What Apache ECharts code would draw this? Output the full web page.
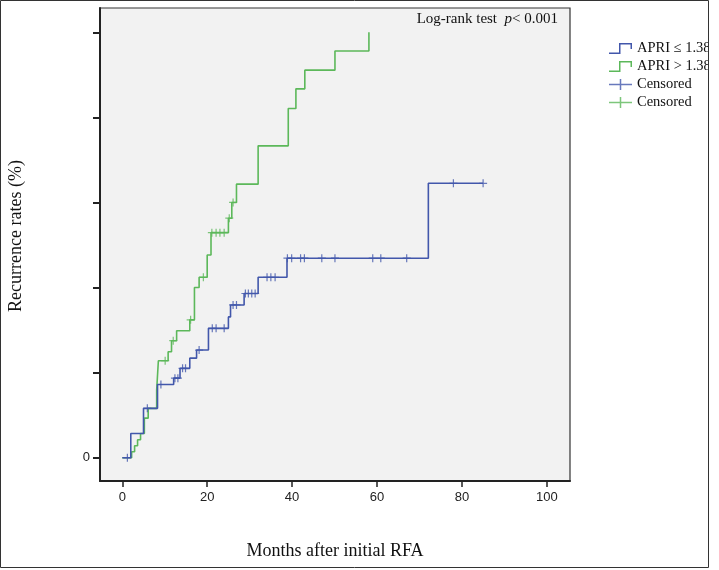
<!DOCTYPE html>
<html><head><meta charset="utf-8">
<script src="https://cdn.jsdelivr.net/npm/echarts@6/dist/echarts.min.js"></script>
<style>html,body{margin:0;padding:0;background:#fff}#c{width:719px;height:570px}</style>
</head><body><div id="c"></div>
<script>
// ---- data ----
const xTicks = [0, 20, 40, 60, 80, 100];
const yTicks = [0, 0.2, 0.4, 0.6, 0.8, 1.0];
const yLabelValues = [0];
const xTitle = 'Months after initial RFA';
const yTitle = 'Recurrence rates (%)';
const seriesNames = ['APRI \u2264 1.38', 'APRI > 1.38', 'Censored', 'Censored '];

const blueTimes = [0, 2.0, 5.0, 8.3, 12.1, 13.6, 15.9, 17.5, 20.3, 25.0, 25.5, 28.7, 32.0, 38.8, 72.1, 85.0];
const blueRates = [0, 0.057, 0.116, 0.172, 0.187, 0.21, 0.234, 0.253, 0.304, 0.331, 0.359, 0.386, 0.424, 0.469, 0.645, 0.645];
const blueCensorTimes = [1.2, 5.9, 9.1, 12.4, 13.1, 14.2, 14.9, 18.1, 21.2, 22.1, 24.0, 26.1, 26.9, 29.0, 29.7, 30.5, 31.3, 34.1, 35.0, 36.0, 38.9, 39.9, 42.0, 42.9, 47.0, 50.1, 59.0, 60.9, 67.0, 78.0, 85.0];

const greenTimes = [0, 2.2, 2.9, 3.6, 4.3, 5.2, 6.1, 8.1, 8.5, 10.8, 11.6, 12.8, 15.9, 17.0, 18.1, 20.0, 20.9, 25.0, 25.8, 26.9, 32.0, 39.1, 40.9, 43.0, 50.1, 58.1];
const greenRates = [0, 0.014, 0.028, 0.042, 0.057, 0.093, 0.116, 0.159, 0.228, 0.249, 0.275, 0.2985, 0.324, 0.40, 0.424, 0.4765, 0.529, 0.563, 0.600, 0.643, 0.733, 0.821, 0.867, 0.911, 0.956, 1.0];
const greenCensorTimes = [10.1, 12.0, 16.1, 19.1, 21.1, 22.1, 23.0, 24.0, 25.2, 26.1];

// ---- helpers ----
function pairs(xs, ys) { return xs.map((x, i) => [x, ys[i]]); }
function levelAt(times, rates, t) {
  let v = rates[0];
  for (let i = 0; i < times.length; i++) { if (times[i] <= t) v = rates[i]; }
  return v;
}
function censorPts(ct, times, rates) { return ct.map(t => [t, levelAt(times, rates, t)]); }

const blue = '#4257ab';
const green = '#5cb85a';
const serif = '"Liberation Serif","Times New Roman",serif';
const sans = '"Liberation Sans",Arial,sans-serif';
const stepIcon = 'path://M0,9.5 L10,9.5 L10,0 L23,0 L23,6 L21.5,6 L21.5,1.5 L11.5,1.5 L11.5,11 L0,11 Z';
const plusIcon = 'path://M0,4.75 L23,4.75 L23,6.25 L0,6.25 Z M10.75,0 L12.25,0 L12.25,11 L10.75,11 Z';
const plusSym = 'path://M0,3.4 L8,3.4 L8,4.6 L0,4.6 Z M3.4,0 L4.6,0 L4.6,8 L3.4,8 Z';

const chart = echarts.init(document.getElementById('c'));
chart.setOption({
  animation: false,
  backgroundColor: '#fff',
  grid: { left: 100, top: 8, width: 470, height: 473, show: true, backgroundColor: '#f2f2f2', borderColor: '#333', borderWidth: 1.2 },
  xAxis: {
    type: 'value', min: -5.25, max: 105.47,
    axisLine: { show: true, onZero: false, lineStyle: { color: '#222', width: 2 } },
    axisTick: { show: true, customValues: xTicks, length: 6, lineStyle: { color: '#222', width: 1.5 } },
    axisLabel: { customValues: xTicks, margin: 10, fontFamily: sans, fontSize: 13, color: '#222' },
    splitLine: { show: false },
    name: xTitle, nameLocation: 'middle', nameGap: 61,
    nameTextStyle: { fontFamily: serif, fontSize: 18, color: '#111' }
  },
  yAxis: {
    type: 'value', min: -0.0548, max: 1.0571,
    axisLine: { show: true, onZero: false, lineStyle: { color: '#222', width: 2 } },
    axisTick: { show: true, customValues: yTicks, length: 7, lineStyle: { color: '#222', width: 2 } },
    axisLabel: { customValues: yLabelValues, margin: 10, fontFamily: sans, fontSize: 13, color: '#222' },
    splitLine: { show: false }
  },
  legend: {
    orient: 'vertical', left: 609, top: 41, padding: 0, itemWidth: 23, itemHeight: 11, itemGap: 3,
    textStyle: { fontFamily: serif, fontSize: 14.5, color: '#111' },
    data: [
      { name: seriesNames[0], icon: stepIcon, itemStyle: { color: blue, borderWidth: 0 } },
      { name: seriesNames[1], icon: stepIcon, itemStyle: { color: green, borderWidth: 0 } },
      { name: seriesNames[2], icon: plusIcon, itemStyle: { color: blue, borderWidth: 0 } },
      { name: seriesNames[3], icon: plusIcon, itemStyle: { color: green, borderWidth: 0 } }
    ]
  },
  graphic: [
    { type: 'text', z: 100, style: { text: '{a|Log-rank test  }{i|p}{a|< 0.001}', x: 558, y: 19, align: 'right', verticalAlign: 'middle',
      rich: { a: { fontFamily: serif, fontSize: 15, fill: '#111' }, i: { fontFamily: serif, fontSize: 15, fontStyle: 'italic', fill: '#111' } } } },
    { type: 'text', z: 100, x: 16, y: 236, rotation: Math.PI / 2,
      style: { text: yTitle, align: 'center', verticalAlign: 'middle', fontFamily: serif, fontSize: 18, fill: '#111' } },
    { type: 'rect', z: 100, shape: { x: 708.5, y: 0, width: 11, height: 570 }, style: { fill: '#fff' } },
    { type: 'rect', z: 101, shape: { x: 0.5, y: 0.5, width: 708, height: 567 }, style: { fill: 'none', stroke: '#333', lineWidth: 1 } }
  ],
  series: [
    { name: seriesNames[0], type: 'line', step: 'end', showSymbol: false, color: blue, lineStyle: { width: 1.6, color: blue }, data: pairs(blueTimes, blueRates), z: 3 },
    { name: seriesNames[1], type: 'line', step: 'end', showSymbol: false, color: green, lineStyle: { width: 1.6, color: green }, data: pairs(greenTimes, greenRates), z: 2 },
    { name: seriesNames[2], type: 'scatter', symbol: plusSym, symbolSize: [8, 8], itemStyle: { color: blue }, data: censorPts(blueCensorTimes, blueTimes, blueRates), z: 4 },
    { name: seriesNames[3], type: 'scatter', symbol: plusSym, symbolSize: [8, 8], itemStyle: { color: green }, data: censorPts(greenCensorTimes, greenTimes, greenRates), z: 4 }
  ]
});
</script></body></html>
